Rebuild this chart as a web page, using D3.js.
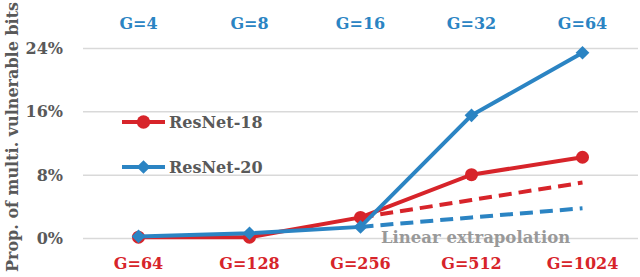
<html lang="en">
  <head>
    <meta charset="UTF-8" />
    <title>Multi-vulnerable bits</title>
    <script src="https://d3js.org/d3.v7.min.js"></script>
  </head>
  <style>
    body {
      margin: 0;
      background: #fff;
    }
    svg {
      display: block;
    }
    text {
      font-family: "DejaVu Serif", "Liberation Serif", serif;
      font-weight: bold;
    }
  </style>
  <body>
    <div id="viz"></div>
    <script>
      // values (fractions)
      var topLabels = ["G=4", "G=8", "G=16", "G=32", "G=64"];
      var bottomLabels = ["G=64", "G=128", "G=256", "G=512", "G=1024"];
      var resnet18 = [0.001, 0.001, 0.026, 0.080, 0.102];
      var resnet20 = [0.002, 0.006, 0.014, 0.155, 0.234];
      var extrap18 = [null, null, 0.026, 0.048, 0.070];
      var extrap20 = [null, null, 0.014, 0.026, 0.0375];
      var yTicks = [0, 0.08, 0.16, 0.24];

      var red = "#d7242a";
      var blue = "#2b84c3";
      var grey = "#595959";

      var width = 640,
        height = 277;

      var svg = d3
        .select("#viz")
        .append("svg")
        .attr("width", width)
        .attr("height", height);

      var x = d3
        .scalePoint()
        .domain(d3.range(bottomLabels.length))
        .range([83, 638])
        .padding(0.5);

      var y = d3.scaleLinear().domain([0, 0.24]).range([238, 48]);

      // gridlines + tick labels
      var yAxis = d3
        .axisLeft(y)
        .tickValues(yTicks)
        .tickFormat(d3.format(".0%"))
        .tickSize(-(638 - 83))
        .tickPadding(20);

      var gy = svg.append("g").attr("transform", "translate(83,0)").call(yAxis);
      gy.select(".domain").remove();
      gy.selectAll(".tick line").attr("stroke", "#d9d9d9").attr("stroke-width", 1.5);
      gy.selectAll(".tick text")
        .attr("fill", grey)
        .attr("font-size", 16)
        .attr("dy", "0.35em");

      // y title
      svg
        .append("text")
        .attr("transform", "translate(18," + 137 + ") rotate(-90)")
        .attr("text-anchor", "middle")
        .attr("fill", grey)
        .attr("font-size", 16)
        .text("Prop. of multi. vulnerable bits");

      // top / bottom category labels
      svg
        .selectAll("text.top")
        .data(topLabels)
        .enter()
        .append("text")
        .attr("class", "top")
        .attr("x", function (d, i) {
          return x(i);
        })
        .attr("y", 29)
        .attr("text-anchor", "middle")
        .attr("fill", blue)
        .attr("font-size", 16)
        .text(function (d) {
          return d;
        });

      svg
        .selectAll("text.bottom")
        .data(bottomLabels)
        .enter()
        .append("text")
        .attr("class", "bottom")
        .attr("x", function (d, i) {
          return x(i);
        })
        .attr("y", 269)
        .attr("text-anchor", "middle")
        .attr("fill", red)
        .attr("font-size", 16)
        .text(function (d) {
          return d;
        });

      var line = d3
        .line()
        .defined(function (d) {
          return d != null;
        })
        .x(function (d, i) {
          return x(i);
        })
        .y(function (d) {
          return y(d);
        });

      // extrapolation (dashed)
      svg
        .append("path")
        .attr("d", line(extrap20))
        .attr("fill", "none")
        .attr("stroke", blue)
        .attr("stroke-width", 4)
        .attr("stroke-dasharray", "13,7");

      svg
        .append("path")
        .attr("d", line(extrap18))
        .attr("fill", "none")
        .attr("stroke", red)
        .attr("stroke-width", 4)
        .attr("stroke-dasharray", "13,7");

      // ResNet-18
      svg
        .append("path")
        .attr("d", line(resnet18))
        .attr("fill", "none")
        .attr("stroke", red)
        .attr("stroke-width", 4);

      svg
        .selectAll("circle.r18")
        .data(resnet18)
        .enter()
        .append("circle")
        .attr("class", "r18")
        .attr("cx", function (d, i) {
          return x(i);
        })
        .attr("cy", function (d) {
          return y(d);
        })
        .attr("r", 6.5)
        .attr("fill", red);

      // ResNet-20
      svg
        .append("path")
        .attr("d", line(resnet20))
        .attr("fill", "none")
        .attr("stroke", blue)
        .attr("stroke-width", 4);

      var diamond = d3.symbol().type(d3.symbolDiamond2).size(120);

      svg
        .selectAll("path.r20")
        .data(resnet20)
        .enter()
        .append("path")
        .attr("class", "r20")
        .attr("d", diamond)
        .attr("transform", function (d, i) {
          return "translate(" + x(i) + "," + y(d) + ")";
        })
        .attr("fill", blue);

      svg
        .append("text")
        .attr("x", 381)
        .attr("y", 243)
        .attr("fill", "#999999")
        .attr("font-size", 16.5)
        .text("Linear extrapolation");

      // legend
      var legend = [
        { name: "ResNet-18", color: red, y: 122, shape: "circle" },
        { name: "ResNet-20", color: blue, y: 167, shape: "diamond" },
      ];

      var lg = svg
        .selectAll("g.legend")
        .data(legend)
        .enter()
        .append("g")
        .attr("class", "legend")
        .attr("transform", function (d) {
          return "translate(122," + d.y + ")";
        });

      lg.append("line")
        .attr("x1", 0)
        .attr("x2", 43)
        .attr("stroke", function (d) {
          return d.color;
        })
        .attr("stroke-width", 4);

      lg.append("path")
        .attr("d", function (d) {
          return d.shape == "circle"
            ? d3.symbol().type(d3.symbolCircle).size(140)()
            : diamond();
        })
        .attr("transform", "translate(21.5,0)")
        .attr("fill", function (d) {
          return d.color;
        });

      lg.append("text")
        .attr("x", 47)
        .attr("dy", "0.35em")
        .attr("fill", grey)
        .attr("font-size", 16)
        .text(function (d) {
          return d.name;
        });
    </script>
  </body>
</html>
